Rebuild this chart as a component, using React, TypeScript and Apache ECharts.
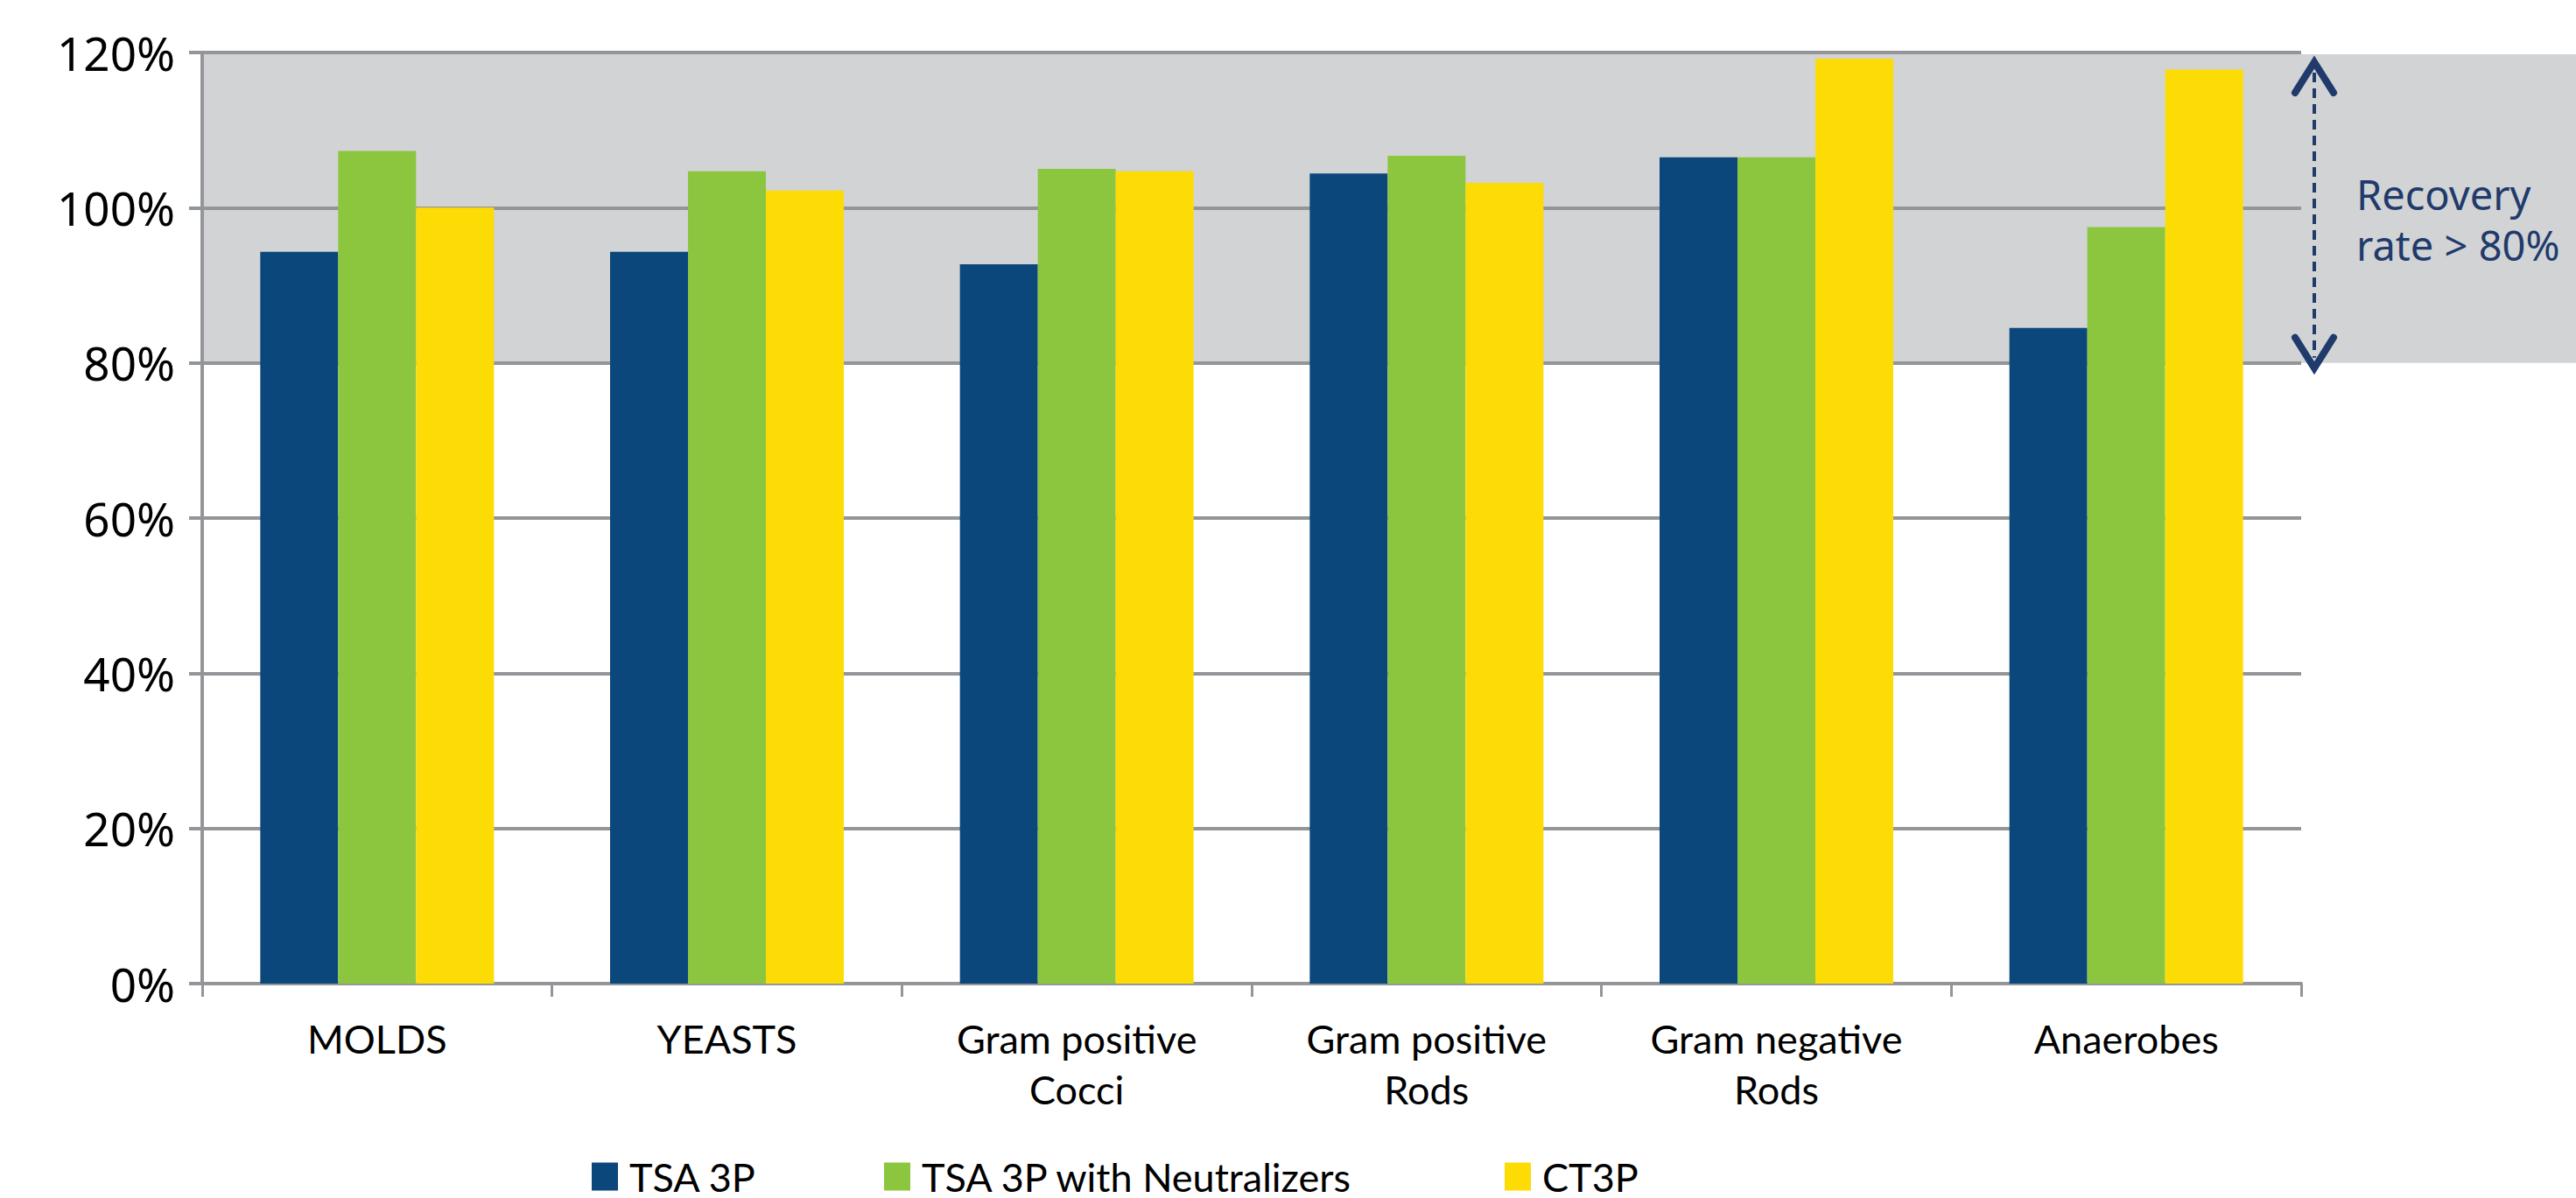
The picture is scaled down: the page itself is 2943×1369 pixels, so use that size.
import React, { useEffect, useRef } from "react";
import * as echarts from "echarts";

const categories = [
  "MOLDS",
  "YEASTS",
  "Gram positive\nCocci",
  "Gram positive\nRods",
  "Gram negative\nRods",
  "Anaerobes",
];
const seriesNames = ["TSA 3P", "TSA 3P with Neutralizers", "CT3P"];
const tsa3p = [94.3, 94.3, 92.7, 104.4, 106.5, 84.5];
const tsa3pNeutralizers = [107.3, 104.7, 105.0, 106.7, 106.5, 97.5];
const ct3p = [100.0, 102.2, 104.7, 103.2, 119.2, 117.8];
const yMin = 0;
const yMax = 120;
const yInterval = 20;
const bandFrom = 80;
const bandTo = 120;
const annotationText = "Recovery\nrate > 80%";

const colors = ["#0b477b", "#8cc63f", "#fddc06"];
const bandColor = "#d1d3d4";
const gridColor = "#939598";
const navy = "#1f3a6b";
const narrowFont = "Lato, 'Liberation Sans', sans-serif";
const regularFont = "'Noto Sans', 'Liberation Sans', sans-serif";

const W = 2943;
const H = 1369;
const GRID = { left: 231, right: 314, top: 60, bottom: 245 };

export default function App() {
  const ref = useRef<HTMLDivElement>(null);
  useEffect(() => {
    if (!ref.current) return;
    const chart = echarts.init(ref.current, null, { renderer: "svg" });
    const nBands = (yMax - yMin) / yInterval;
    const areaColors: string[] = [];
    for (let i = 0; i < nBands; i++) {
      const lo = yMin + i * yInterval;
      areaColors.push(lo >= bandFrom && lo < bandTo ? bandColor : "rgba(0,0,0,0)");
    }
    const data = [tsa3p, tsa3pNeutralizers, ct3p];
    const legendLefts = [676, 1010, 1719];
    chart.setOption({
      animation: false,
      grid: { ...GRID, containLabel: false },
      legend: seriesNames.map((n, i) => ({
        data: [n],
        left: legendLefts[i],
        top: 1322,
        padding: 0,
        icon: "rect",
        itemWidth: 30,
        itemHeight: 32,
        textStyle: {
          fontFamily: narrowFont,
          fontSize: 45,
          color: "#000",
          lineHeight: 38,
          padding: [0, 0, 0, 8],
        },
      })),
      xAxis: {
        type: "category",
        data: categories,
        boundaryGap: true,
        axisLine: { show: true, lineStyle: { color: gridColor, width: 4 } },
        axisTick: { show: true, length: 15, lineStyle: { color: gridColor, width: 3 } },
        axisLabel: {
          interval: 0,
          margin: 34,
          fontFamily: narrowFont,
          fontSize: 45,
          lineHeight: 58,
          color: "#000",
        },
      },
      yAxis: {
        type: "value",
        min: yMin,
        max: yMax,
        interval: yInterval,
        axisLine: { show: true, lineStyle: { color: gridColor, width: 4 } },
        axisTick: { show: true, length: 15, lineStyle: { color: gridColor, width: 4 } },
        axisLabel: {
          margin: 31,
          fontFamily: regularFont,
          fontSize: 53,
          color: "#000",
          formatter: "{value}%",
        },
        splitLine: { show: true, lineStyle: { color: gridColor, width: 4 } },
        splitArea: { show: true, areaStyle: { color: areaColors } },
      },
      series: seriesNames.map((n, i) => ({
        name: n,
        type: "bar",
        data: data[i],
        barWidth: 89,
        barGap: "0%",
        itemStyle: { color: colors[i] },
      })),
    });

    const y120 = chart.convertToPixel({ yAxisIndex: 0 }, bandTo) as number;
    const y80 = chart.convertToPixel({ yAxisIndex: 0 }, bandFrom) as number;
    const y100 = chart.convertToPixel({ yAxisIndex: 0 }, 100) as number;
    const plotRight = chart.getWidth() - GRID.right;
    const ax = plotRight + 15;
    const topTip = y120 + 9;
    const botTip = y80 + 8;
    chart.setOption({
      graphic: [
        {
          type: "rect",
          z: -10,
          shape: { x: plotRight, y: y120 + 2, width: chart.getWidth() - plotRight, height: y80 - y120 - 2 },
          style: { fill: bandColor },
        },
        {
          type: "line",
          shape: { x1: ax, y1: topTip + 14, x2: ax, y2: botTip - 14 },
          style: { stroke: navy, lineWidth: 4, lineDash: [11, 7] },
        },
        {
          type: "polyline",
          shape: { points: [[ax - 22, topTip + 37], [ax, topTip + 2], [ax + 22, topTip + 37]] },
          style: { stroke: navy, lineWidth: 8, lineCap: "round", lineJoin: "miter", fill: null },
        },
        {
          type: "polyline",
          shape: { points: [[ax - 22, botTip - 37], [ax, botTip - 2], [ax + 22, botTip - 37]] },
          style: { stroke: navy, lineWidth: 8, lineCap: "round", lineJoin: "miter", fill: null },
        },
        {
          type: "text",
          x: plotRight + 63,
          y: y100 - 44,
          style: {
            text: annotationText,
            fill: navy,
            font: `47px ${regularFont}`,
            lineHeight: 58,
            verticalAlign: "top",
            align: "left",
          },
        },
      ],
    });
    return () => chart.dispose();
  }, []);
  return (
    <div
      ref={ref}
      style={{ position: "absolute", left: 0, top: 0, width: W, height: H }}
    />
  );
}
